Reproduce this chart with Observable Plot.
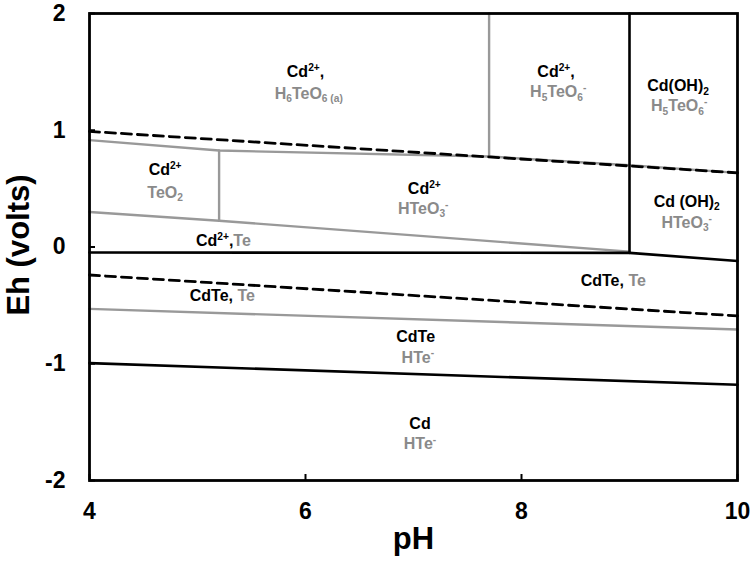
<!DOCTYPE html>
<html>
<head>
<meta charset="utf-8">
<script src="https://cdn.jsdelivr.net/npm/d3@7"></script>
<script src="https://cdn.jsdelivr.net/npm/@observablehq/plot@0.6"></script>
<style>
  html, body { margin: 0; padding: 0; background: #fff; }
  #chart { width: 755px; height: 562px; }
</style>
</head>
<body>
<div id="chart"></div>
<script>
// ---- data (pH, Eh in volts) ----
const xTicks = [4, 6, 8, 10];
const yTicks = [-2, -1, 0, 1, 2];

// water stability lines (dashed)
const waterOxidation = [[4, 0.99], [10, 0.635]];
const waterReduction = [[4, -0.24], [10, -0.59]];

// tellurium boundaries (gray)
const teUpper = [[4, 0.915], [5.2, 0.826], [7.7, 0.775], [9, 0.70], [10, 0.635]];
const teLower = [[4, 0.30], [5.2, 0.225], [9, -0.04]];
const teVertical1 = [[5.2, 0.225], [5.2, 0.826]];
const teVertical2 = [[7.7, 0.775], [7.7, 2]];
const cdTeTe = [[4, -0.53], [10, -0.707]];

// cadmium boundaries (black)
const cdMain = [[4, -0.047], [9, -0.05], [10, -0.12]];
const cdVertical = [[9, -0.05], [9, 2]];
const cdCdTe = [[4, -0.995], [10, -1.18]];

// species labels
const labelText = ["Cd^{2+},", "H_{6}TeO_{6 (a)}", "Cd^{2+},", "H_{5}TeO_{6}^{-}",
  "Cd(OH)_{2}", "H_{5}TeO_{6}^{-}", "Cd^{2+}", "TeO_{2}", "Cd^{2+}", "HTeO_{3}^{-}",
  "Cd (OH)_{2}", "HTeO_{3}^{-}", "Cd^{2+},|Te", "CdTe, |Te", "CdTe, |Te",
  "CdTe", "HTe^{-}", "Cd", "HTe^{-}"];
const labelPH = [6.0, 6.03, 8.32, 8.34, 9.45, 9.46, 4.70, 4.70, 7.10, 7.09,
  9.53, 9.53, 5.24, 5.23, 8.85, 7.02, 7.04, 7.06, 7.06];
const labelEh = [1.50, 1.315, 1.50, 1.33, 1.383, 1.21, 0.664, 0.467, 0.50, 0.33,
  0.39, 0.21, 0.056, -0.415, -0.287, -0.767, -0.946, -1.513, -1.684];
const labelGroup = ["Cd", "Te", "Cd", "Te", "Cd", "Te", "Cd", "Te", "Cd", "Te",
  "Cd", "Te", "Cd", "Cd", "Cd", "Cd", "Te", "Cd", "Te"];

const xLabel = "pH";
const yLabel = "Eh (volts)";

// ---- styles ----
const BLACK = "#000";
const GRAY = "#999";
const GRAYTEXT = "#8a8a8a";
const FONT = "'Liberation Sans', Arial, Helvetica, sans-serif";
const LABEL_SIZE = 16;

const labels = labelText.map((t, i) => ({text: t, pH: labelPH[i], Eh: labelEh[i], group: labelGroup[i]}));

const dash = {stroke: BLACK, strokeWidth: 2.8, strokeDasharray: "10,6"};
const grayLine = {stroke: GRAY, strokeWidth: 2.4};
const blackLine = {stroke: BLACK, strokeWidth: 2.6};

const svg = Plot.plot({
  width: 755,
  height: 562,
  marginLeft: 89,
  marginRight: 18,
  marginTop: 13,
  marginBottom: 82,
  style: {fontFamily: FONT, background: "#fff", color: "#000"},
  x: {domain: [4, 10]},
  y: {domain: [-2, 2]},
  marks: [
    Plot.line(teUpper, grayLine),
    Plot.line(teLower, grayLine),
    Plot.line(teVertical1, grayLine),
    Plot.line(teVertical2, grayLine),
    Plot.line(cdTeTe, grayLine),
    Plot.line(waterOxidation, dash),
    Plot.line(waterReduction, dash),
    Plot.line(cdMain, blackLine),
    Plot.line(cdVertical, blackLine),
    Plot.line(cdCdTe, blackLine),
    Plot.frame({stroke: BLACK, strokeWidth: 2.8}),
    Plot.axisX(xTicks, {tickSize: -6, tickFormat: () => "", label: null, strokeWidth: 2}),
    Plot.axisY(yTicks, {tickSize: -6, tickFormat: () => "", label: null, strokeWidth: 2}),
    Plot.axisX(xTicks, {tickSize: 0, tickPadding: 22, tickFormat: d => String(d),
      fontSize: 23, fontWeight: "bold", label: null}),
    Plot.axisY(yTicks, {tickSize: 0, tickPadding: 24, tickFormat: d => String(d),
      fontSize: 23, fontWeight: "bold", label: null}),
    Plot.text([xLabel], {frameAnchor: "bottom", dy: 68, fontSize: 31, fontWeight: "bold", fill: BLACK}),
    Plot.text([yLabel], {frameAnchor: "left", textAnchor: "middle", rotate: -90, dx: -70, dy: -2,
      fontSize: 31, fontWeight: "bold", fill: BLACK}),
    Plot.text(labels, {x: "pH", y: "Eh", text: "text", fontSize: LABEL_SIZE, fontWeight: "bold",
      fill: d => d.group === "Cd" ? BLACK : GRAYTEXT})
  ]
});

// turn simple markup (^{..} superscript, _{..} subscript, | switch to gray) into tspans
function enrich(root, F) {
  const ns = "http://www.w3.org/2000/svg";
  for (const t of root.querySelectorAll("text")) {
    const s = t.textContent;
    if (!/[\^_|]/.test(s)) continue;
    const segs = [];
    let gray = false, buf = "", i = 0;
    const push = (txt, mode) => { if (txt) segs.push({txt, mode, gray}); };
    while (i < s.length) {
      const c = s[i];
      if ((c === "^" || c === "_") && s[i + 1] === "{") {
        push(buf, "n"); buf = "";
        const j = s.indexOf("}", i);
        push(s.slice(i + 2, j), c === "^" ? "sup" : "sub");
        i = j + 1; continue;
      }
      if (c === "|") { push(buf, "n"); buf = ""; gray = true; i++; continue; }
      buf += c; i++;
    }
    push(buf, "n");
    t.textContent = "";
    let cur = 0;
    for (const seg of segs) {
      const ts = document.createElementNS(ns, "tspan");
      const target = seg.mode === "sup" ? -0.38 * F : seg.mode === "sub" ? 0.24 * F : 0;
      const dy = target - cur;
      cur = target;
      if (dy !== 0) ts.setAttribute("dy", dy.toFixed(2));
      if (seg.mode !== "n") ts.setAttribute("font-size", (0.64 * F).toFixed(1));
      if (seg.gray) ts.setAttribute("fill", GRAYTEXT);
      ts.textContent = seg.txt;
      t.appendChild(ts);
    }
  }
}
enrich(svg, LABEL_SIZE);

document.getElementById("chart").appendChild(svg);
</script>
</body>
</html>
